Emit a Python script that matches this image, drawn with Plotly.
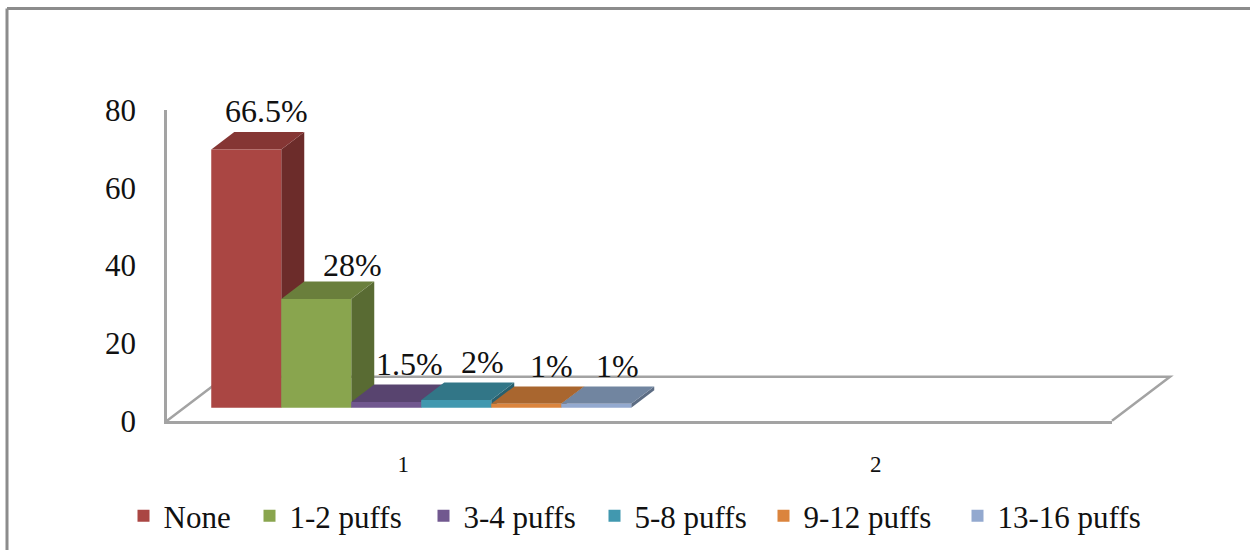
import plotly.graph_objects as go

categories = ["1", "2"]
series_names = ["None", "1-2 puffs", "3-4 puffs", "5-8 puffs", "9-12 puffs", "13-16 puffs"]
series_values = [
    [66.5, None],
    [28, None],
    [1.5, None],
    [2, None],
    [1, None],
    [1, None],
]
data_labels = ["66.5%", "28%", "1.5%", "2%", "1%", "1%"]
y_ticks = [0, 20, 40, 60, 80]

front_colors = ["#AA4643", "#89A54E", "#71588F", "#4198AF", "#DB843D", "#93A9CF"]
top_colors = ["#853634", "#6A7F3C", "#58446F", "#327687", "#A9662F", "#7185A0"]
side_colors = ["#6C2C2A", "#596B33", "#483859", "#28606E", "#8A5326", "#5C6C83"]
label_nudge_x_px = [-3, 13, 0, 3, 2, -2]   # horizontal nudge of the value labels
label_nudge_y_px = [1, -3, 0, 1, 0, 0]     # vertical nudge of the value labels
legend_left_px = [123.5, 249.5, 423.5, 594.5, 763.5, 957.5]

W, H = 1250, 552
L, R, T, B = 167, 1112, 110, 422      # front plane of the chart, px
PX_X = (R - L) / 2                    # px per category
PX_Y = (B - T) / 80                   # px per value unit
FLOOR_DX, FLOOR_DY = 58, 44           # full floor depth, px
BAR_DX, BAR_DY = 18, 13               # bar front plane offset from the front edge, px
DEPTH_DX, DEPTH_DY = 23, 17.5         # bar depth, px
GROUP_PX = 420                        # width of the bar cluster, px
FONT = "Liberation Serif, Times New Roman, serif"
AXIS_GREY = "#A3A3A3"

sx = BAR_DX / PX_X
sy = BAR_DY / PX_Y
dx = DEPTH_DX / PX_X
dy = DEPTH_DY / PX_Y
bar_w = GROUP_PX / PX_X / len(series_names)


def px2paper_x(p):
    return (p - L) / (R - L)


def px2paper_y(p):
    return (B - p) / (B - T)


def legend_id(i):
    return "legend" if i == 0 else "legend{}".format(i + 1)


fig = go.Figure()

# depth faces: on the visible axes, painted left to right, under the front faces
for i, name in enumerate(series_names):
    for c, v in enumerate(series_values[i]):
        if v is None:
            continue
        x0 = c - GROUP_PX / PX_X / 2 + i * bar_w + sx
        x1 = x0 + bar_w
        y0 = sy
        yv = v + sy
        fig.add_trace(go.Scatter(
            x=[x1, x1 + dx, x1 + dx, x1, x1], y=[y0, y0 + dy, yv + dy, yv, y0],
            mode="lines", line=dict(width=0), fill="toself", fillcolor=side_colors[i],
            showlegend=False, hoverinfo="skip"))
        fig.add_trace(go.Scatter(
            x=[x0, x1, x1 + dx, x0 + dx, x0], y=[yv, yv, yv + dy, yv + dy, yv],
            mode="lines", line=dict(width=0), fill="toself", fillcolor=top_colors[i],
            showlegend=False, hoverinfo="skip"))

# front faces
for i, name in enumerate(series_names):
    fig.add_trace(go.Bar(
        x=list(range(len(categories))), y=series_values[i], name=name,
        marker=dict(color=front_colors[i], line=dict(width=0)),
        legend=legend_id(i),
        showlegend=True,
        xaxis="x2", yaxis="y2"))

# value labels, above the back edge of each bar top
label_x = []
label_y = []
for i in range(len(series_names)):
    v = series_values[i][0]
    label_x.append(-GROUP_PX / PX_X / 2 + (i + 0.5) * bar_w + dx + label_nudge_x_px[i] / PX_X)
    label_y.append(v + dy + (1 + label_nudge_y_px[i]) / PX_Y)
fig.add_trace(go.Scatter(
    x=label_x, y=label_y, text=data_labels, mode="text", textposition="top center",
    textfont=dict(family=FONT, size=32, color="#111111"), cliponaxis=False,
    showlegend=False, hoverinfo="skip", xaxis="x2", yaxis="y2"))

shape_line = dict(color=AXIS_GREY, width=2.5)
frame_color = "#8C8C8C"
shapes = [
    dict(type="path", xref="paper", yref="paper", layer="below", line=shape_line,
         path="M {} {} L {} {} L {} {} L {} {}".format(
             px2paper_x(L), px2paper_y(B),
             px2paper_x(L + FLOOR_DX), px2paper_y(B - FLOOR_DY),
             px2paper_x(R + FLOOR_DX), px2paper_y(B - FLOOR_DY),
             px2paper_x(R), px2paper_y(B))),
    dict(type="line", xref="paper", yref="paper", layer="below",
         line=dict(color=frame_color, width=3),
         x0=px2paper_x(7), x1=px2paper_x(7), y0=px2paper_y(H), y1=px2paper_y(8)),
    dict(type="line", xref="paper", yref="paper", layer="below",
         line=dict(color=frame_color, width=3),
         x0=px2paper_x(7), x1=px2paper_x(W), y0=px2paper_y(8), y1=px2paper_y(8)),
]

fig.update_layout(
    width=W, height=H,
    margin=dict(l=L, r=W - R, t=T, b=H - B),
    paper_bgcolor="white", plot_bgcolor="rgba(0,0,0,0)",
    barmode="group", bargap=1 - GROUP_PX / PX_X, bargroupgap=0,
    font=dict(family=FONT, color="#111111"),
    showlegend=True,
    shapes=shapes,
    xaxis=dict(range=[-0.5, 1.5], tickvals=list(range(len(categories))), ticktext=categories,
               showgrid=False, zeroline=False, showline=True, linecolor=AXIS_GREY, linewidth=2.5,
               ticks="", tickfont=dict(family=FONT, size=23, color="#111111"), ticklabelstandoff=21),
    yaxis=dict(range=[0, 80], tickvals=y_ticks, showgrid=False, zeroline=False, showline=True,
               linecolor=AXIS_GREY, linewidth=2.5, ticks="", ticklabelstandoff=22,
               tickfont=dict(family=FONT, size=31, color="#111111")),
    xaxis2=dict(range=[-0.5 - sx, 1.5 - sx], overlaying="x", visible=False, anchor="y2"),
    yaxis2=dict(range=[-sy, 80 - sy], overlaying="y", visible=False, anchor="x2"),
)

for i in range(len(series_names)):
    fig.layout[legend_id(i)] = dict(
        orientation="h", xref="container", yref="container",
        x=legend_left_px[i] / W, y=1 - 516 / H, xanchor="left", yanchor="middle",
        font=dict(family=FONT, size=31, color="#111111"),
        bgcolor="rgba(0,0,0,0)")

fig.write_html("out.html", config=dict(displayModeBar=False),
               post_script="document.body.style.margin='0';document.body.style.overflow='hidden';")
